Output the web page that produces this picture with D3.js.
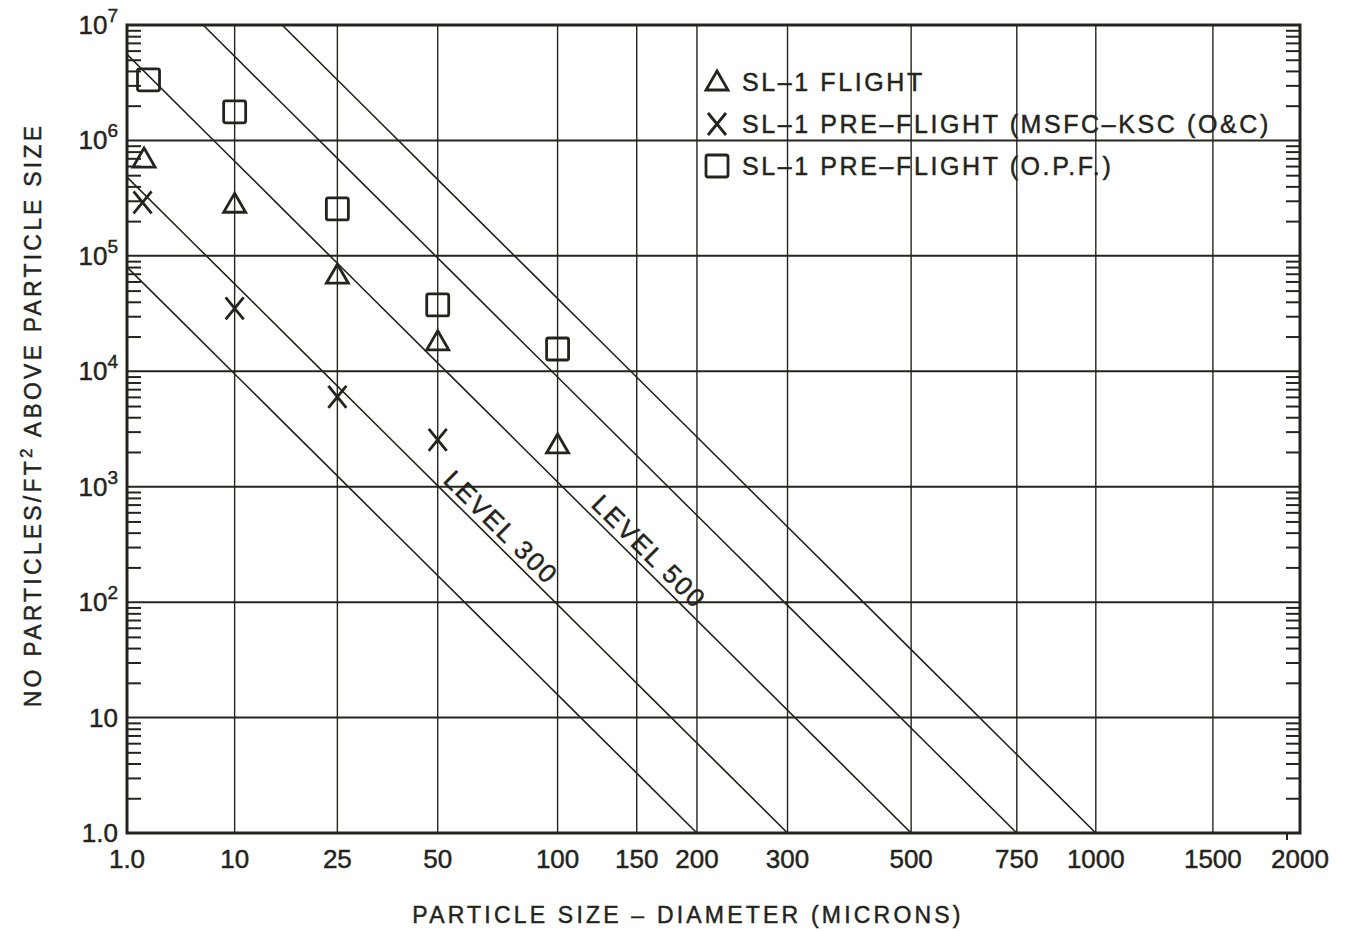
<!DOCTYPE html>
<html><head><meta charset="utf-8">
<script src="https://cdn.jsdelivr.net/npm/d3@7"></script>
<style>
body{margin:0;background:#fff}
svg{display:block}
text{font-family:"Liberation Sans",Arial,Helvetica,sans-serif;fill:#24241c;stroke:#24241c;stroke-width:0.45px}
</style>
</head><body>
<svg id="chart" width="1354" height="931"></svg>
<script>
// ---------- data ----------
const xTickValues = [1, 10, 25, 50, 100, 150, 200, 300, 500, 750, 1000, 1500, 2000];
const xTickLabels = ["1.0", "10", "25", "50", "100", "150", "200", "300", "500", "750", "1000", "1500", "2000"];
const xGridValues = [10, 25, 50, 100, 150, 200, 300, 500, 750, 1000, 1500];
const yTickValues = [1, 10, 100, 1e3, 1e4, 1e5, 1e6, 1e7];
const yTickBase = ["1.0", "10", "10", "10", "10", "10", "10", "10"];
const yTickExp = ["", "", "2", "3", "4", "5", "6", "7"];
const cleanLevels = [200, 300, 500, 750, 1000];
const levelLabelLevels = [300, 500];
const levelLabelTexts = ["LEVEL 300", "LEVEL 500"];
const levelLabelAt = [50, 116];

const flightSize = [2.5, 10, 25, 50, 100];
const flightCount = [6.9e5, 2.8e5, 6.8e4, 1.8e4, 2.3e3];
const preKscSize = [2.4, 10, 25, 50];
const preKscCount = [2.9e5, 3.5e4, 6.0e3, 2.55e3];
const opfSize = [2.8, 10, 25, 50, 100];
const opfCount = [3.35e6, 1.77e6, 2.55e5, 3.76e4, 1.56e4];
const seriesNames = ["SL\u20131 FLIGHT", "SL\u20131 PRE\u2013FLIGHT (MSFC\u2013KSC (O&C)", "SL\u20131 PRE\u2013FLIGHT (O.P.F.)"];
const seriesSymbols = ["triangle", "cross", "square"];

const xTitle = "PARTICLE SIZE \u2013 DIAMETER (MICRONS)";
const yTitleA = "NO PARTICLES/FT";
const yTitleSup = "2";
const yTitleB = " ABOVE PARTICLE SIZE";
const levelSlope = 0.926; // MIL-STD-1246 log-log^2 slope

// ---------- layout ----------
const ink = "#24241c";
const L = 127, R = 1300, T = 25, B = 833;
const svg = d3.select("#chart");

const sq = d => Math.pow(Math.log10(d), 2);
const xs = d3.scaleLinear().domain([0, sq(2000)]).range([L, R]);
const x = d => xs(sq(d));
const y = d3.scaleLog().domain([1, 1e7]).range([B, T]);

svg.append("defs").append("clipPath").attr("id", "plotclip")
  .append("rect").attr("x", L).attr("y", T).attr("width", R - L).attr("height", B - T);

// grid
const grid = svg.append("g").attr("stroke", ink);
grid.selectAll("line.v").data(xGridValues).join("line")
  .attr("x1", d => x(d)).attr("x2", d => x(d)).attr("y1", T).attr("y2", B)
  .attr("stroke-width", 1.4);
grid.selectAll("line.h").data(yTickValues.slice(1, -1)).join("line")
  .attr("x1", L).attr("x2", R).attr("y1", d => y(d)).attr("y2", d => y(d))
  .attr("stroke-width", 2);

// minor y ticks (both sides, inward)
const minors = [];
for (let k = 0; k < 7; k++) for (let m = 2; m <= 9; m++) minors.push(m * Math.pow(10, k));
svg.append("g").attr("transform", `translate(${L},0)`)
  .call(d3.axisRight(y).tickValues(minors).tickSize(14).tickFormat(""))
  .call(g => g.select(".domain").remove())
  .selectAll("line").attr("stroke", ink).attr("stroke-width", 2);
svg.append("g").attr("transform", `translate(${R},0)`)
  .call(d3.axisLeft(y).tickValues(minors).tickSize(14).tickFormat(""))
  .call(g => g.select(".domain").remove())
  .selectAll("line").attr("stroke", ink).attr("stroke-width", 2);

// cleanliness level lines
const levelCount = (lev, d) => Math.pow(10, levelSlope * (sq(lev) - sq(d)));
const levelLine = d3.line().x(p => x(p[0])).y(p => y(p[1]));
const levelPts = lev => {
  const u0 = Math.max(0, sq(lev) - 7 / levelSlope);
  const u1 = sq(lev);
  return d3.range(0, 11).map(i => {
    const u = u0 + (u1 - u0) * i / 10;
    const d = Math.pow(10, Math.sqrt(u));
    return [d, levelCount(lev, d)];
  });
};
svg.append("g").attr("clip-path", "url(#plotclip)")
  .selectAll("path").data(cleanLevels).join("path")
  .attr("d", lev => levelLine(levelPts(lev)))
  .attr("fill", "none").attr("stroke", ink).attr("stroke-width", 1.6);

// level labels
levelLabelLevels.forEach((lev, i) => {
  const d0 = levelLabelAt[i];
  const px = x(d0), py = y(levelCount(lev, d0));
  const d1 = d0 * 1.5;
  const ang = Math.atan2(y(levelCount(lev, d1)) - py, x(d1) - px) * 180 / Math.PI;
  svg.append("text")
    .attr("transform", `translate(${px},${py}) rotate(${ang})`)
    .attr("dy", -6).attr("font-size", 26).attr("letter-spacing", 2)
    .text(levelLabelTexts[i]);
});

// frame
svg.append("rect").attr("x", L).attr("y", T).attr("width", R - L).attr("height", B - T)
  .attr("fill", "none").attr("stroke", ink).attr("stroke-width", 3);
svg.append("line").attr("x1", x(2000) - 13).attr("x2", x(2000) - 13).attr("y1", B).attr("y2", B + 7)
  .attr("stroke", ink).attr("stroke-width", 2);

// x tick labels
svg.append("g").selectAll("text").data(xTickValues).join("text")
  .attr("x", d => x(d)).attr("y", 868)
  .attr("text-anchor", "middle").attr("font-size", 26)
  .text((d, i) => xTickLabels[i]);

// y tick labels
const yl = svg.append("g").selectAll("text").data(yTickValues).join("text")
  .attr("x", 118).attr("y", d => y(d) + 9)
  .attr("text-anchor", "end").attr("font-size", 26);
yl.append("tspan").text((d, i) => yTickBase[i]);
yl.filter((d, i) => yTickExp[i] !== "").append("tspan")
  .attr("dy", -12).attr("font-size", 19).text(d => yTickExp[yTickValues.indexOf(d)]);

// axis titles
svg.append("text").attr("x", 688).attr("y", 923).attr("text-anchor", "middle")
  .attr("font-size", 23).attr("letter-spacing", 3.2).text(xTitle);
const yt = svg.append("text").attr("transform", "translate(41,415) rotate(-90)")
  .attr("text-anchor", "middle").attr("font-size", 23).attr("letter-spacing", 3.2);
yt.append("tspan").text(yTitleA);
yt.append("tspan").attr("dy", -9).attr("font-size", 17).text(yTitleSup);
yt.append("tspan").attr("dy", 9).text(yTitleB);

// symbols
function drawSymbol(g, type, cx, cy) {
  if (type === "triangle") {
    g.append("path").attr("d", `M${cx},${cy - 11}L${cx + 11},${cy + 8}L${cx - 11},${cy + 8}Z`);
  } else if (type === "square") {
    g.append("rect").attr("x", cx - 11).attr("y", cy - 11).attr("width", 22).attr("height", 22).attr("rx", 2);
  } else {
    g.append("path").attr("d", `M${cx - 9},${cy - 11}L${cx + 9},${cy + 11}M${cx + 9},${cy - 11}L${cx - 9},${cy + 11}`);
  }
}
const seriesData = [
  flightSize.map((s, i) => [s, flightCount[i]]),
  preKscSize.map((s, i) => [s, preKscCount[i]]),
  opfSize.map((s, i) => [s, opfCount[i]])
];
const marks = svg.append("g").attr("fill", "none").attr("stroke", ink).attr("stroke-width", 2.8);
seriesData.forEach((pts, si) => pts.forEach(p => drawSymbol(marks, seriesSymbols[si], x(p[0]), y(p[1]))));

// legend
const leg = svg.append("g");
const legSym = leg.append("g").attr("fill", "none").attr("stroke", ink).attr("stroke-width", 2.8);
seriesNames.forEach((name, i) => {
  const cy = 82 + i * 42;
  drawSymbol(legSym, seriesSymbols[i], 717, cy);
  leg.append("text").attr("x", 742).attr("y", cy + 9).attr("font-size", 25)
    .attr("letter-spacing", 2.6).text(name);
});
</script>
</body></html>
